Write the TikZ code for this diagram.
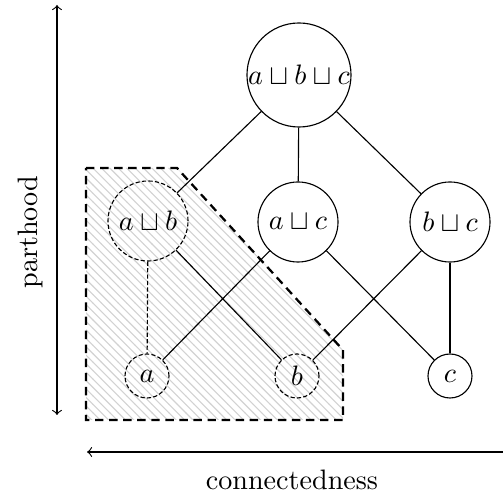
\documentclass[tikz,border=0pt]{standalone}
\usepackage{amssymb}
\usetikzlibrary{positioning, patterns, backgrounds}

\begin{document}
\begin{tikzpicture}[
    x=0.0125cm, y=-0.0125cm,
    big/.style={circle, draw, thin, inner sep=0pt, minimum size=1.3cm},
    mid/.style={circle, draw, thin, inner sep=0pt, minimum size=1cm},
    small/.style={circle, draw, thin, inner sep=0pt, minimum size=0.55cm},
    part/.style={dash pattern=on 1.5pt off 0.8pt},
    link/.style={thin},
    axis/.style={<->, thin}
]
\useasboundingbox (0,0) rectangle (503,497);

% Top
\node[big] (abc) at (299,75) {$a \sqcup b \sqcup c$};

% Middle row
\node[mid, part] (ab) at (148,221) {$a \sqcup b$};
\node[mid] (ac) at (298,222) {$a \sqcup c$};
\node[mid] (bc) at (450,222) {$b \sqcup c$};

% Bottom row
\node[small, part] (a) at (147,376) {$a$};
\node[small, part] (b) at (297,376) {$b$};
\node[small] (c) at (450,376) {$c$};

% Edges
\draw[link] (abc) -- (ab);
\draw[link] (abc) -- (ac);
\draw[link] (abc) -- (bc);
\draw[link, part] (ab) -- (a);
\draw[link] (ab) -- (b);
\draw[link] (ac) -- (a);
\draw[link] (ac) -- (c);
\draw[link] (bc) -- (b);
\draw[link] (bc) -- (c);

% Axes
\coordinate (ptop) at (57,5);
\coordinate (pbot) at (57,415);
\coordinate (cright) at (503,452);
\coordinate (cleft) at (87,452);
\draw[axis] (pbot) -- (ptop);
\draw[->, thin] (cright) -- (cleft);
\node[rotate=90] (parthood) at (30,232) {parthood};
\node (connectedness) at (292,480) {connectedness};

% Hatched region
\begin{scope}[on background layer]
    \fill[pattern=north west lines, pattern color=gray!35]
        (86,168) -- (177,168) -- (343,350) -- (343,420) -- (86,420) -- cycle;
\end{scope}
\draw[thick, dash pattern=on 3pt off 2pt] (86,168) -- (177,168) -- (343,350) -- (343,420) -- (86,420) -- cycle;

\end{tikzpicture}
\end{document}
